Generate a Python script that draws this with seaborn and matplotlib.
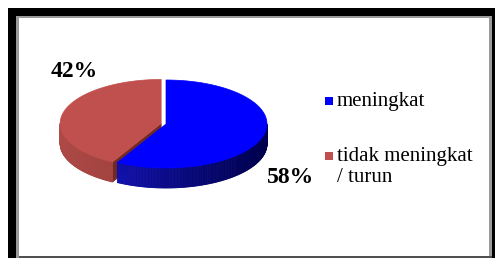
import numpy as np
import matplotlib
matplotlib.use("Agg")
import matplotlib.pyplot as plt
import seaborn as sns
from matplotlib.patches import Rectangle, Polygon
from matplotlib.colors import to_rgb

# data
categories = ["meningkat", "tidak meningkat / turun"]
values = [58, 42]
top_colors = ["#0000FF", "#C0504D"]
side_light = ["#1818DC", "#AC4946"]
side_dark = ["#00004C", "#8E3834"]
wall_colors = ["#00007A", "#722825"]

sns.set_theme(style="white")
plt.rcParams['font.family'] = ['Liberation Serif', 'DejaVu Serif']

fig = plt.figure(figsize=(4.95, 2.58), dpi=100)
ax = fig.add_axes([0, 0, 1, 1])
ax.set_xlim(0, 495)
ax.set_ylim(258, 0)
ax.axis('off')
fig.patch.set_facecolor('white')

# frame
ax.add_patch(Rectangle((8, 8), 490, 260, facecolor='black', lw=0))
ax.add_patch(Rectangle((16, 16), 476, 250, facecolor='#9a9a9a', lw=0))
ax.add_patch(Rectangle((19, 18), 470, 238, facecolor='white', lw=0))
ax.add_patch(Rectangle((19, 256.3), 473, 3, facecolor='#505050', lw=0))

# pie geometry (pixels)
cx, cy, rx, ry, depth = 166, 124, 101, 44, 20
explode = [0, 5]
total = sum(values)


def pt(t, ox, oy, down=0.0):
    r = np.radians(t)
    return (cx + ox + rx * np.cos(r), cy + oy - ry * np.sin(r) + down)


def mix(c1, c2, f):
    a, b = np.array(to_rgb(c1)), np.array(to_rgb(c2))
    return tuple(a + (b - a) * f)


starts = []
cum = 0
for v in values:
    t0 = 90 - 360 * cum / total
    t1 = t0 - 360 * v / total
    starts.append((t0, t1))
    cum += v

for i in reversed(range(len(values))):
    t0, t1 = starts[i]
    mid = np.radians((t0 + t1) / 2)
    ox = explode[i] * np.cos(mid)
    oy = -explode[i] * np.sin(mid) * ry / rx

    # radial walls facing the viewer
    for t, nrm in [(t0, t0 + 90), (t1, t1 - 90)]:
        if np.sin(np.radians(nrm)) < -1e-6:
            c_top = (cx + ox, cy + oy)
            c_bot = (cx + ox, cy + oy + depth)
            e_top = pt(t, ox, oy)
            e_bot = pt(t, ox, oy, depth)
            ax.add_patch(Polygon([c_top, e_top, e_bot, c_bot], closed=True,
                                 facecolor=wall_colors[i], edgecolor=wall_colors[i], lw=0.5))

    # outer side wall (front half only)
    ts = np.linspace(t0, t1, 240)
    for a, b in zip(ts[:-1], ts[1:]):
        if np.sin(np.radians((a + b) / 2)) >= 0:
            continue
        p1, p2 = pt(a, ox, oy), pt(b, ox, oy)
        p3, p4 = pt(b, ox, oy, depth), pt(a, ox, oy, depth)
        f = np.clip(((p1[0] + p2[0]) / 2 - (cx - rx)) / (2 * rx), 0, 1)
        col = mix(side_light[i], side_dark[i], f ** 0.8)
        ax.add_patch(Polygon([p1, p2, p3, p4], closed=True,
                             facecolor=col, edgecolor=col, lw=0.6))

    # top surface
    arc = [pt(t, ox, oy) for t in ts]
    ax.add_patch(Polygon([(cx + ox, cy + oy)] + arc, closed=True,
                         facecolor=top_colors[i], edgecolor=top_colors[i], lw=0.5))

# percentage labels
pct_pos = [(291, 183), (74, 77)]
for v, (x, y) in zip(values, pct_pos):
    ax.text(x, y, f"{v}%", ha='center', va='baseline', fontsize=17,
            fontweight='bold', color='black')

# legend
leg_y = [106, 161]
for cat, col, y in zip(categories, top_colors, leg_y):
    ax.add_patch(Rectangle((325, y - 9), 8, 8, facecolor=col, lw=0))
    for k, line in enumerate(cat.replace(" / ", "\n/ ").split("\n")):
        ax.text(337, y + 21 * k, line, ha='left', va='baseline', fontsize=15, color='black')

plt.savefig("out.png", dpi=100)
